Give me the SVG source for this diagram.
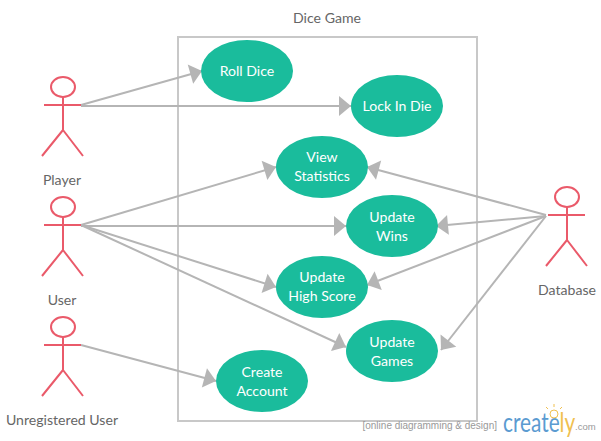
<svg xmlns="http://www.w3.org/2000/svg" width="601" height="441" viewBox="0 0 601 441">
<style>
.uc{fill:#1abc9c}
.a{fill:none;stroke:#ea5a6a;stroke-width:2}
.c{fill:none;stroke:#b5b5b5;stroke-width:2;marker-end:url(#ah)}
.t{font-family:Lato,"Liberation Sans",sans-serif;font-size:14.1px;text-anchor:middle}
.w{fill:#fff}
.g{fill:#666}
</style>
<defs>
<marker id="ah" markerUnits="userSpaceOnUse" markerWidth="20" markerHeight="24" refX="12" refY="10" orient="auto" overflow="visible">
<path d="M0,0L12,10L0,20Z" fill="#b5b5b5"/>
</marker>
<g id="stick">
<ellipse cx="0" cy="-18" rx="12" ry="10"/>
<path d="M-19,0H18M0,-8V25M0,25L-21,51M0,25L20,51"/>
</g>
</defs>
<rect x="178" y="37" width="299" height="384" fill="#fff" stroke="#c8c8c8" stroke-width="2"/>
<text class="t g" x="327" y="23">Dice Game</text>
<g id="connectors">
<path class="c" d="M81,105L202,71"/>
<path class="c" d="M81,106L351,106"/>
<path class="c" d="M81,225L276,167"/>
<path class="c" d="M81,226L346,226"/>
<path class="c" d="M81,225L276,287"/>
<path class="c" d="M81,225L346,347"/>
<path class="c" d="M81,345L216,381"/>
<path class="c" d="M546,215L367,167"/>
<path class="c" d="M546,216L436,226"/>
<path class="c" d="M546,216L367,285"/>
<path class="c" d="M546,216L441,350"/>
</g>
<g id="roll-dice"><ellipse class="uc" cx="247" cy="71" rx="46" ry="31"/><text class="t w" x="247" y="76">Roll Dice</text></g>
<g id="lock-in-die"><ellipse class="uc" cx="397" cy="106" rx="46" ry="31"/><text class="t w" x="397" y="111">Lock In Die</text></g>
<g id="view-statistics"><ellipse class="uc" cx="322" cy="167" rx="46" ry="31"/><text class="t w" x="322" y="162">View</text><text class="t w" x="322" y="181">Statistics</text></g>
<g id="update-wins"><ellipse class="uc" cx="392" cy="226" rx="46" ry="31"/><text class="t w" x="392" y="222">Update</text><text class="t w" x="392" y="241">Wins</text></g>
<g id="update-high-score"><ellipse class="uc" cx="322" cy="287" rx="46" ry="31"/><text class="t w" x="322" y="282">Update</text><text class="t w" x="322" y="301">High Score</text></g>
<g id="update-games"><ellipse class="uc" cx="392" cy="351" rx="46" ry="31"/><text class="t w" x="392" y="347">Update</text><text class="t w" x="392" y="366">Games</text></g>
<g id="create-account"><ellipse class="uc" cx="262" cy="381" rx="46" ry="31"/><text class="t w" x="262" y="377">Create</text><text class="t w" x="262" y="396">Account</text></g>
<g id="player"><use href="#stick" class="a" x="63" y="105"/><text class="t g" x="62" y="185">Player</text></g>
<g id="user"><use href="#stick" class="a" x="63" y="225"/><text class="t g" x="62" y="305">User</text></g>
<g id="unregistered-user"><use href="#stick" class="a" x="63" y="345"/><text class="t g" x="62" y="425">Unregistered User</text></g>
<g id="database"><use href="#stick" class="a" x="567" y="215"/><text class="t g" x="567" y="295">Database</text></g>
<g id="watermark">
<text x="497" y="429" style="font-family:'Liberation Sans',sans-serif;font-size:10px;text-anchor:end;fill:#999">[online diagramming &amp; design]</text>
<text transform="translate(503 432) scale(.8 1)" style="font-family:Lato,'Liberation Sans',sans-serif;font-size:26px"><tspan fill="#5b9bd1">create</tspan><tspan fill="#f0c04f">ly</tspan></text>
<text x="575" y="430" style="font-family:'Liberation Sans',sans-serif;font-size:9.5px;fill:#999">.com</text>
<circle cx="554" cy="414" r="4" fill="none" stroke="#f0c04f"/>
<path d="M554,404V407M546,407L548,409M562,407L560,409" stroke="#f0c04f" fill="none"/>
</g>
</svg>
